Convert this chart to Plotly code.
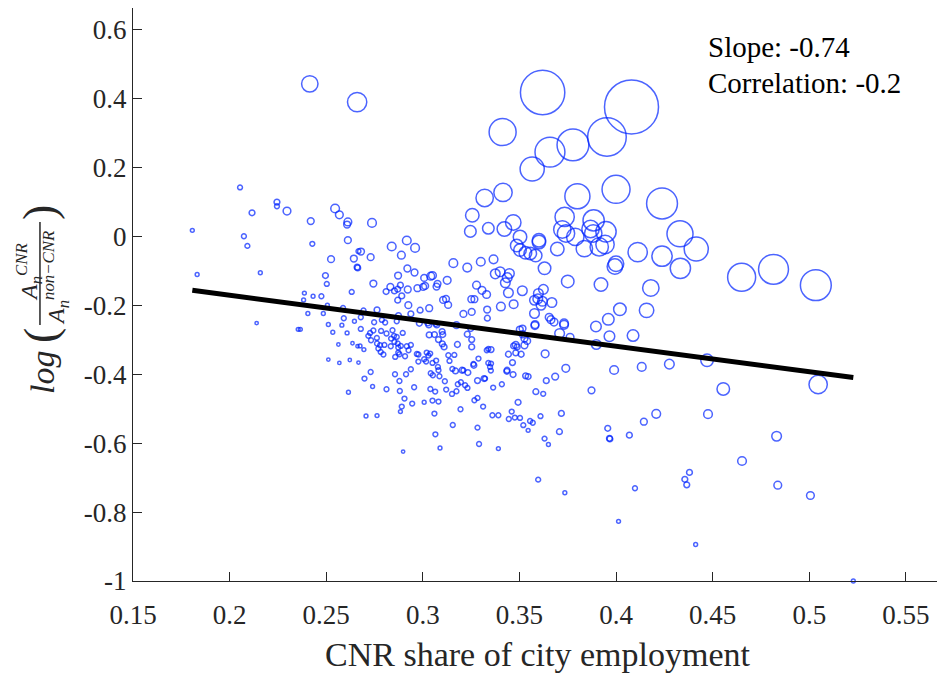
import numpy as np
import plotly.graph_objects as go

# CNR share of city employment (x), log productivity ratio (y), city weight (bubble area)
# west / upper-left cities
share_a = [0.2415, 0.2054, 0.2245, 0.2245, 0.2116, 0.2297, 0.242, 0.1807, 0.2074, 0.2092,
           0.2428, 0.1832, 0.2159, 0.2387, 0.2383, 0.2432, 0.214, 0.2355, 0.2366, 0.2405,
           0.266]
ratio_a = [0.442, 0.1415, 0.099, 0.087, 0.068, 0.073, 0.044, 0.017, 0.0, -0.028,
           -0.022, -0.111, -0.106, -0.165, -0.185, -0.174, -0.252, -0.27, -0.27, -0.224,
           0.389]
weight_a = [289, 25, 36, 25, 36, 64, 49, 16, 25, 25,
            25, 16, 16, 16, 16, 16, 12, 16, 16, 16,
            400]

share_b = [0.2546, 0.2568, 0.2612, 0.2608, 0.2612, 0.2525, 0.2643, 0.266, 0.2663, 0.2496,
           0.2503, 0.2632, 0.2475, 0.2506, 0.2587, 0.2485, 0.2591, 0.2646, 0.2511, 0.2581,
           0.2534, 0.2608, 0.2563, 0.2636, 0.2662, 0.2511, 0.2568, 0.2622, 0.2667, 0.2667]
ratio_b = [0.0805, 0.062, 0.0416, 0.034, -0.0115, -0.0666, -0.0646, -0.0898, -0.0918, -0.114,
           -0.1383, -0.1615, -0.174, -0.2, -0.208, -0.224, -0.2378, -0.2465, -0.256, -0.258,
           -0.2785, -0.2805, -0.314, -0.3104, -0.319, -0.3577, -0.3675, -0.359, -0.3664, -0.0434]
weight_b = [81, 64, 64, 49, 49, 49, 49, 36, 36, 36,
            25, 25, 25, 16, 25, 16, 25, 16, 16, 16,
            16, 16, 12, 12, 12, 12, 12, 12, 12, 25]

share_c = [0.2737, 0.2917, 0.2839, 0.296, 0.268, 0.2889, 0.273, 0.3158, 0.323, 0.330,
           0.3366, 0.292, 0.2957, 0.2872, 0.3007, 0.3041, 0.305, 0.3126, 0.3076, 0.3071,
           0.2744, 0.2832, 0.281, 0.2853, 0.287, 0.2884, 0.2922, 0.2972, 0.3012, 0.2891,
           0.287, 0.3105, 0.312, 0.3131, 0.3251, 0.3267, 0.3278, 0.3306, 0.333, 0.321,
           0.3253, 0.3333, 0.3334, 0.2925, 0.3033, 0.2986, 0.2874, 0.2938, 0.2763, 0.2693,
           0.2788, 0.2805, 0.2748, 0.2679, 0.2679, 0.2865, 0.2982, 0.3026, 0.3031, 0.3067,
           0.3072, 0.3174, 0.3248, 0.323, 0.3253, 0.3253, 0.3331, 0.2727, 0.2744, 0.2718,
           0.2732, 0.2762, 0.2784, 0.2812, 0.2843, 0.2851, 0.2836, 0.2865, 0.2853, 0.287,
           0.2886, 0.2873, 0.2896, 0.2834, 0.2779, 0.2801, 0.2763, 0.277, 0.2675, 0.2695,
           0.2782, 0.2796, 0.2873, 0.2879, 0.2857, 0.2917, 0.2938, 0.2926, 0.2908, 0.2969,
           0.2977, 0.302, 0.3038, 0.3029, 0.2977, 0.3007, 0.3017, 0.305, 0.3069, 0.3078,
           0.3081, 0.31, 0.3103, 0.3081, 0.3101, 0.311, 0.3033, 0.306, 0.3179, 0.3132,
           0.3163, 0.3138, 0.321, 0.3153, 0.3288, 0.3262, 0.3339, 0.3339, 0.3002]
ratio_c = [0.0387, -0.0124, -0.0298, -0.0338, -0.0443, -0.055, -0.0608, -0.0782, -0.091, -0.074,
           -0.067, -0.0936, -0.1052, -0.114, -0.121, -0.116, -0.114, -0.128, -0.138, -0.146,
           -0.1372, -0.147, -0.1604, -0.1586, -0.1537, -0.142, -0.1545, -0.1508, -0.144, -0.173,
           -0.1856, -0.1847, -0.1818, -0.1992, -0.1827, -0.1827, -0.142, -0.157, -0.169, -0.2254,
           -0.2196, -0.2126, -0.2378, -0.2, -0.2088, -0.2146, -0.23, -0.2254, -0.2137, -0.2155,
           -0.2428, -0.2503, -0.2494, -0.235, -0.2689, -0.2465, -0.2524, -0.2515, -0.2573, -0.2532,
           -0.2573, -0.258, -0.2677, -0.2843, -0.2997, -0.3211, -0.3307, -0.2805, -0.2735, -0.289,
           -0.3017, -0.295, -0.2747, -0.2822, -0.2727, -0.289, -0.2968, -0.292, -0.3066, -0.3112,
           -0.3181, -0.3228, -0.2805, -0.3191, -0.3162, -0.3153, -0.3112, -0.3257, -0.3182, -0.3287,
           -0.3356, -0.3431, -0.3374, -0.3423, -0.3501, -0.3191, -0.3153, -0.3307, -0.3481, -0.3414,
           -0.3431, -0.3374, -0.3403, -0.3461, -0.3635, -0.3568, -0.3635, -0.3675, -0.3606, -0.3791,
           -0.3887, -0.2764, -0.2851, -0.2997, -0.3124, -0.3211, -0.2863, -0.2851, -0.314, -0.3452,
           -0.3443, -0.3617, -0.3887, -0.3849, -0.3548, -0.3705, -0.3269, -0.3675, -0.147]
weight_c = [81, 81, 81, 81, 49, 64, 49, 81, 81, 81,
            81, 49, 49, 49, 49, 64, 64, 64, 49, 49,
            49, 49, 36, 36, 36, 36, 49, 49, 49, 36,
            36, 49, 49, 49, 49, 49, 64, 64, 64, 49,
            49, 49, 36, 49, 49, 36, 36, 36, 36, 25,
            25, 25, 25, 25, 25, 25, 36, 36, 36, 36,
            36, 49, 36, 36, 36, 36, 25, 25, 25, 25,
            25, 25, 25, 25, 25, 25, 25, 25, 25, 25,
            25, 25, 25, 25, 25, 25, 25, 25, 16, 16,
            25, 25, 25, 25, 25, 25, 25, 25, 25, 25,
            25, 25, 25, 25, 25, 25, 25, 25, 25, 25,
            25, 36, 36, 36, 36, 36, 36, 36, 36, 25,
            25, 25, 25, 25, 25, 25, 25, 25, 49]

# large cities, upper-right cluster
share_d = [0.362, 0.408, 0.3413, 0.3658, 0.3777, 0.3953, 0.3566, 0.332, 0.3415, 0.380,
           0.400, 0.4238, 0.3256, 0.3246, 0.3339, 0.3422, 0.3468, 0.3734, 0.3884, 0.3722,
           0.3741, 0.3789, 0.3868, 0.3882, 0.3948, 0.3943, 0.3913, 0.3836, 0.3503, 0.3601,
           0.3601, 0.3486, 0.3503, 0.3531, 0.3556, 0.3584, 0.3696, 0.4112, 0.4238, 0.4331,
           0.4415, 0.4333, 0.400, 0.3994, 0.363, 0.375, 0.3922, 0.418, 0.3375, 0.340,
           0.3448, 0.3437, 0.3427, 0.3515, 0.3624, 0.3598, 0.3443, 0.465, 0.4815, 0.5034,
           0.4158, 0.402, 0.396, 0.3896, 0.3966, 0.4088, 0.3898, 0.3708, 0.3762, 0.3731,
           0.3679, 0.3654, 0.3663, 0.358, 0.3578]
ratio_d = [0.417, 0.375, 0.302, 0.244, 0.265, 0.288, 0.195, 0.111, 0.127, 0.116,
           0.136, 0.095, 0.061, 0.014, 0.023, 0.021, 0.040, 0.056, 0.046, 0.0196,
           0.008, -0.002, 0.021, 0.008, 0.013, -0.024, -0.031, -0.036, -0.002, -0.012,
           -0.017, -0.027, -0.040, -0.048, -0.050, -0.056, -0.037, -0.046, -0.058, 0.007,
           -0.037, -0.093, -0.080, -0.088, -0.093, -0.131, -0.140, -0.150, -0.109, -0.103,
           -0.108, -0.120, -0.135, -0.158, -0.154, -0.166, -0.164, -0.119, -0.096, -0.142,
           -0.215, -0.212, -0.241, -0.262, -0.290, -0.288, -0.314, -0.282, -0.293, -0.257,
           -0.249, -0.235, -0.242, -0.259, -0.224]
weight_d = [2116, 3136, 784, 961, 1089, 1600, 625, 324, 361, 676,
            841, 1024, 196, 144, 144, 225, 256, 400, 484, 324,
            324, 324, 324, 324, 441, 361, 361, 289, 196, 196,
            196, 169, 169, 169, 169, 169, 196, 400, 441, 729,
            625, 441, 256, 256, 169, 169, 196, 289, 100, 100,
            100, 100, 100, 100, 100, 100, 100, 841, 961, 1024,
            225, 169, 144, 121, 121, 144, 100, 100, 64, 81,
            64, 64, 64, 64, 100]

# lower-right tail
share_e = [0.3633, 0.374, 0.3685, 0.3639, 0.3532, 0.3545, 0.399, 0.4133, 0.4276, 0.4471,
           0.5046, 0.4555, 0.3873, 0.3585, 0.3623, 0.4208, 0.4476, 0.4144, 0.3717, 0.3609,
           0.3503, 0.3555, 0.3569, 0.352, 0.3545, 0.3707, 0.3957, 0.3966, 0.3968, 0.4069,
           0.363, 0.365, 0.4831, 0.4652, 0.438, 0.4356, 0.4366, 0.4837, 0.5006, 0.3597,
           0.4098, 0.3735, 0.4013, 0.4412, 0.5228]
ratio_e = [-0.341, -0.383, -0.407, -0.419, -0.405, -0.407, -0.388, -0.379, -0.371, -0.360,
           -0.430, -0.443, -0.447, -0.451, -0.457, -0.515, -0.516, -0.538, -0.514, -0.522,
           -0.527, -0.536, -0.541, -0.548, -0.563, -0.567, -0.557, -0.586, -0.588, -0.577,
           -0.587, -0.604, -0.580, -0.652, -0.685, -0.705, -0.721, -0.722, -0.752, -0.706,
           -0.731, -0.744, -0.827, -0.894, -1.0]
weight_e = [64, 64, 49, 36, 36, 36, 81, 81, 100, 169,
            361, 169, 49, 36, 25, 81, 81, 49, 36, 25,
            25, 25, 25, 25, 16, 36, 36, 36, 36, 36,
            25, 16, 100, 81, 36, 36, 36, 64, 64, 25,
            25, 16, 16, 16, 16]

share_f = [0.3595, 0.3619, 0.3612, 0.3668, 0.3578, 0.3404, 0.347, 0.3731, 0.3581, 0.3502,
           0.3516, 0.3516, 0.3526, 0.354, 0.3526, 0.3481, 0.347, 0.3488, 0.3481, 0.3509,
           0.3443, 0.3464, 0.3436, 0.3353, 0.3353, 0.3348]
ratio_f = [-0.1818, -0.1886, -0.2, -0.1923, -0.1856, -0.2039, -0.1972, -0.253, -0.2561, -0.2706,
           -0.2677, -0.2843, -0.2968, -0.3037, -0.3162, -0.3153, -0.3182, -0.3211, -0.3385, -0.3423,
           -0.3423, -0.3664, -0.3887, -0.3287, -0.3693, -0.379]
weight_f = [100, 100, 100, 100, 100, 81, 81, 81, 64, 49,
            49, 49, 49, 49, 49, 49, 36, 36, 36, 36,
            36, 36, 36, 36, 25, 25]

# lower-middle cluster
share_g = [0.273, 0.2698, 0.274, 0.2856, 0.2913, 0.2938, 0.2879, 0.2812, 0.2881, 0.2955,
           0.2905, 0.2891, 0.2884, 0.2945, 0.3007, 0.2706, 0.2763, 0.2898, 0.3039, 0.3064,
           0.3121, 0.305, 0.3081, 0.306, 0.3065, 0.3089, 0.3155, 0.3283, 0.3291, 0.3195,
           0.3312, 0.3267, 0.3283, 0.3151, 0.3174, 0.3181, 0.3197, 0.3219, 0.3231, 0.3283,
           0.3317, 0.3169, 0.3203, 0.3233, 0.3264, 0.3041, 0.3052, 0.3086, 0.3114, 0.2615,
           0.3352, 0.3322, 0.3364, 0.3409, 0.3435, 0.3467, 0.3493, 0.336, 0.3391, 0.346,
           0.3445, 0.3476, 0.3391]
ratio_g = [-0.3937, -0.4128, -0.436, -0.4003, -0.4003, -0.3858, -0.4198, -0.4439, -0.4488, -0.4381,
           -0.4709, -0.4941, -0.5086, -0.4854, -0.4816, -0.5214, -0.5202, -0.6247, -0.443, -0.4506,
           -0.4448, -0.4767, -0.4796, -0.5144, -0.5745, -0.6142, -0.5475, -0.5551, -0.6026, -0.5019,
           -0.494, -0.4758, -0.4691, -0.4575, -0.4497, -0.4294, -0.4236, -0.4323, -0.44, -0.4187,
           -0.4128, -0.3908, -0.3887, -0.3954, -0.3742, -0.3974, -0.4032, -0.4061, -0.4206, -0.4526,
           -0.3897, -0.4128, -0.4389, -0.4293, -0.3917, -0.4012, -0.4816, -0.5193, -0.5193, -0.5086,
           -0.5301, -0.526, -0.616]
weight_g = [25, 25, 16, 25, 25, 25, 25, 25, 25, 25,
            25, 25, 16, 25, 16, 16, 16, 12, 25, 25,
            25, 25, 25, 25, 25, 16, 25, 25, 25, 25,
            25, 25, 25, 25, 25, 25, 25, 25, 25, 36,
            36, 36, 36, 36, 36, 25, 25, 25, 25, 16,
            25, 25, 25, 25, 36, 36, 36, 25, 25, 25,
            25, 25, 16]

# fitted line reported in the figure
slope = -0.74
intercept = -0.023
correlation = -0.2

xticks = [0.15, 0.2, 0.25, 0.3, 0.35, 0.4, 0.45, 0.5, 0.55]
xtick_text = ["0.15", "0.2", "0.25", "0.3", "0.35", "0.4", "0.45", "0.5", "0.55"]
yticks = [-1, -0.8, -0.6, -0.4, -0.2, 0, 0.2, 0.4, 0.6]
ytick_text = ["-1", "-0.8", "-0.6", "-0.4", "-0.2", "0", "0.2", "0.4", "0.6"]

share = share_a + share_b + share_c + share_d + share_e + share_f + share_g
ratio = ratio_a + ratio_b + ratio_c + ratio_d + ratio_e + ratio_f + ratio_g
weight = weight_a + weight_b + weight_c + weight_d + weight_e + weight_f + weight_g

FONT = "Liberation Serif, Times New Roman, serif"
INK = "#262626"
BLUE = "rgb(0,35,255)"

fig = go.Figure()

fig.add_trace(go.Scatter(
    x=share, y=ratio, mode="markers", cliponaxis=False,
    marker=dict(size=weight, sizemode="area", sizeref=2.15,
                color="rgba(0,0,0,0)", line=dict(color=BLUE, width=1.5)),
    showlegend=False, hoverinfo="x+y",
))

xfit = np.array([min(share), max(share)])
fig.add_trace(go.Scatter(
    x=xfit, y=intercept + slope * xfit, mode="lines",
    line=dict(color="black", width=5), showlegend=False,
))

axis_common = dict(
    showgrid=False, zeroline=False, showline=True, linecolor=INK, linewidth=1,
    ticks="inside", ticklen=9, tickwidth=1, tickcolor=INK,
    tickfont=dict(family=FONT, size=27, color=INK),
)

fig.update_xaxes(range=[0.15, 0.5687], tickvals=xticks, ticktext=xtick_text,
                 ticklabelstandoff=10,
                 title=dict(text="CNR share of city employment",
                            font=dict(family=FONT, size=34, color=INK), standoff=12),
                 **axis_common)
fig.update_yaxes(range=[-1, 0.662], tickvals=yticks, ticktext=ytick_text,
                 ticklabelstandoff=0, **axis_common)


def ylab(x, y, text, size):
    fig.add_annotation(x=x, y=y, xref="paper", yref="paper", text=text,
                       showarrow=False, textangle=-90, xanchor="center", yanchor="middle",
                       font=dict(family=FONT, size=size, color=INK))


# y label: log( A_n^CNR / A_n^non-CNR ), built as a stacked fraction
ylab(-0.1125, 0.3647, "<i>log</i>", 34)
ylab(-0.1150, 0.4293, "(", 46)
ylab(-0.1286, 0.5393, "<i>A</i><sub><i>n</i></sub><sup><i>CNR</i></sup>", 24)
ylab(-0.0952, 0.5288, "<i>A</i><sub><i>n</i></sub><sup><i>non−CNR</i></sup>", 24)
ylab(-0.1150, 0.6440, ")", 46)
fig.add_shape(type="line", xref="paper", yref="paper", x0=-0.1150, x1=-0.1150,
              y0=0.4468, y1=0.6265, line=dict(color=INK, width=1.5))

fig.add_annotation(x=0.7083, y=0.932, xref="paper", yref="paper", showarrow=False,
                   xanchor="left", yanchor="middle", text=f"Slope: {slope}",
                   font=dict(family=FONT, size=29, color="black"))
fig.add_annotation(x=0.7083, y=0.869, xref="paper", yref="paper", showarrow=False,
                   xanchor="left", yanchor="middle", text=f"Correlation: {correlation}",
                   font=dict(family=FONT, size=29, color="black"))

# the page places the figure 8px in from the window corner
fig.update_layout(
    width=945, height=673,
    margin=dict(l=125, r=11, t=0, b=100),
    font=dict(family=FONT, color=INK),
    paper_bgcolor="white", plot_bgcolor="white",
)

fig.write_html("out.html")
